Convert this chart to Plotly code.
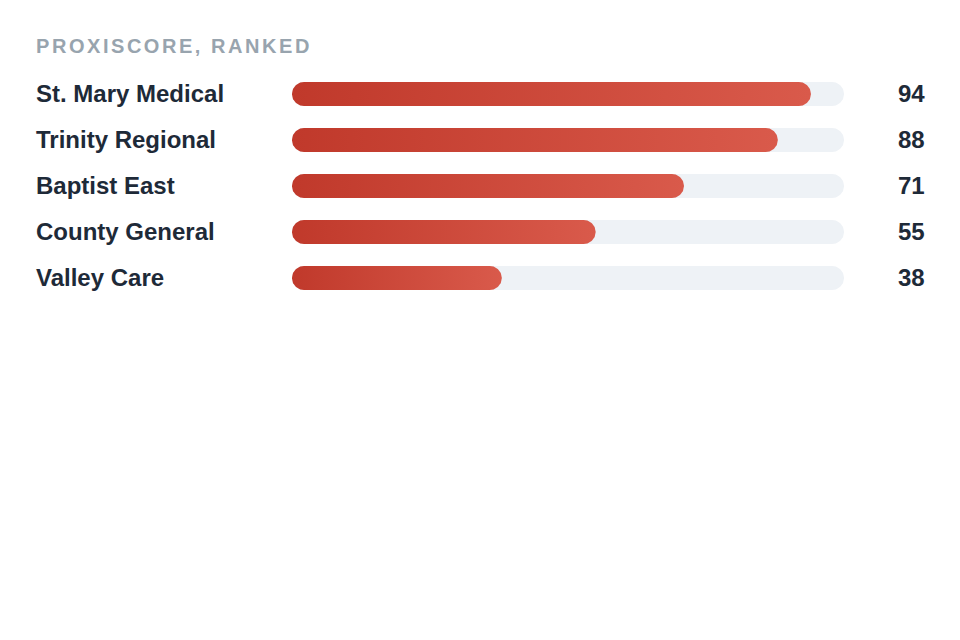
import numpy as np
import plotly.graph_objects as go

names = ["St. Mary Medical", "Trinity Regional", "Baptist East", "County General", "Valley Care"]
scores = [94, 88, 71, 55, 38]
score_max = 100
title_text = "PROXISCORE, RANKED"

W, H = 960, 640
OFF = 8  # default page body margin
ML, MT = 292 - OFF, 71 - OFF
plot_w, plot_h = 552, 230
MR = W - ML - plot_w
MB = H - MT - plot_h
px_per_x = plot_w / score_max
px_per_y = plot_h / len(names)
bar_px = 24
rad_px = bar_px / 2

GRAD = [[0, "#c0392b"], [1, "#d95a4b"]]
TRACK = "#eef2f6"
TEXT = "#1e2a38"
TITLE = "#98a4ae"


def pill(x0, x1, yc):
    rx = rad_px / px_per_x
    ry = rad_px / px_per_y
    t_left = np.linspace(np.pi / 2, 3 * np.pi / 2, 40)
    t_right = np.linspace(-np.pi / 2, np.pi / 2, 40)
    xl = (x0 + rx) + rx * np.cos(t_left)
    yl = yc + ry * np.sin(t_left)
    xr = (x1 - rx) + rx * np.cos(t_right)
    yr = yc + ry * np.sin(t_right)
    xs = np.concatenate([xl, xr, xl[:1]])
    ys = np.concatenate([yl, yr, yl[:1]])
    return xs, ys


fig = go.Figure()
for i, (n, v) in enumerate(zip(names, scores)):
    xs, ys = pill(0, score_max, i)
    fig.add_trace(go.Scatter(x=xs, y=ys, mode="lines", fill="toself",
                             fillcolor=TRACK, line=dict(width=0),
                             hoverinfo="skip", showlegend=False))
    xs, ys = pill(0, v, i)
    fig.add_trace(go.Scatter(x=xs, y=ys, mode="lines", fill="toself",
                             fillgradient=dict(type="horizontal", colorscale=GRAD),
                             line=dict(width=0), hoverinfo="skip", showlegend=False))

annotations = []
lx = (36 - OFF - 2 - ML) / plot_w
rx_ = (924 - OFF + 3 - ML) / plot_w
dy = 1 / px_per_y
for i, (n, v) in enumerate(zip(names, scores)):
    annotations.append(dict(x=lx, xref="paper", y=i - dy, yref="y", text=n,
                            xanchor="left", yanchor="middle", showarrow=False,
                            font=dict(family="Liberation Sans", size=24, color=TEXT, weight=700)))
    annotations.append(dict(x=rx_, xref="paper", y=i - dy, yref="y", text=str(v),
                            xanchor="right", yanchor="middle", showarrow=False,
                            font=dict(family="Liberation Sans", size=24, color=TEXT, weight=700)))

annotations.append(dict(x=lx, xref="paper", y=(H - MB - (46 - OFF)) / plot_h, yref="paper",
                        text='<span style="letter-spacing:2.55px">' + title_text + '</span>',
                        xanchor="left", yanchor="middle", showarrow=False,
                        font=dict(family="Liberation Sans", size=20, color=TITLE, weight=700)))

fig.update_layout(
    width=W, height=H,
    margin=dict(l=ML, r=MR, t=MT, b=MB),
    paper_bgcolor="white", plot_bgcolor="white",
    xaxis=dict(range=[0, score_max], visible=False, fixedrange=True),
    yaxis=dict(range=[len(names) - 0.5, -0.5], visible=False, fixedrange=True),
    annotations=annotations,
)
fig.write_html("out.html")
